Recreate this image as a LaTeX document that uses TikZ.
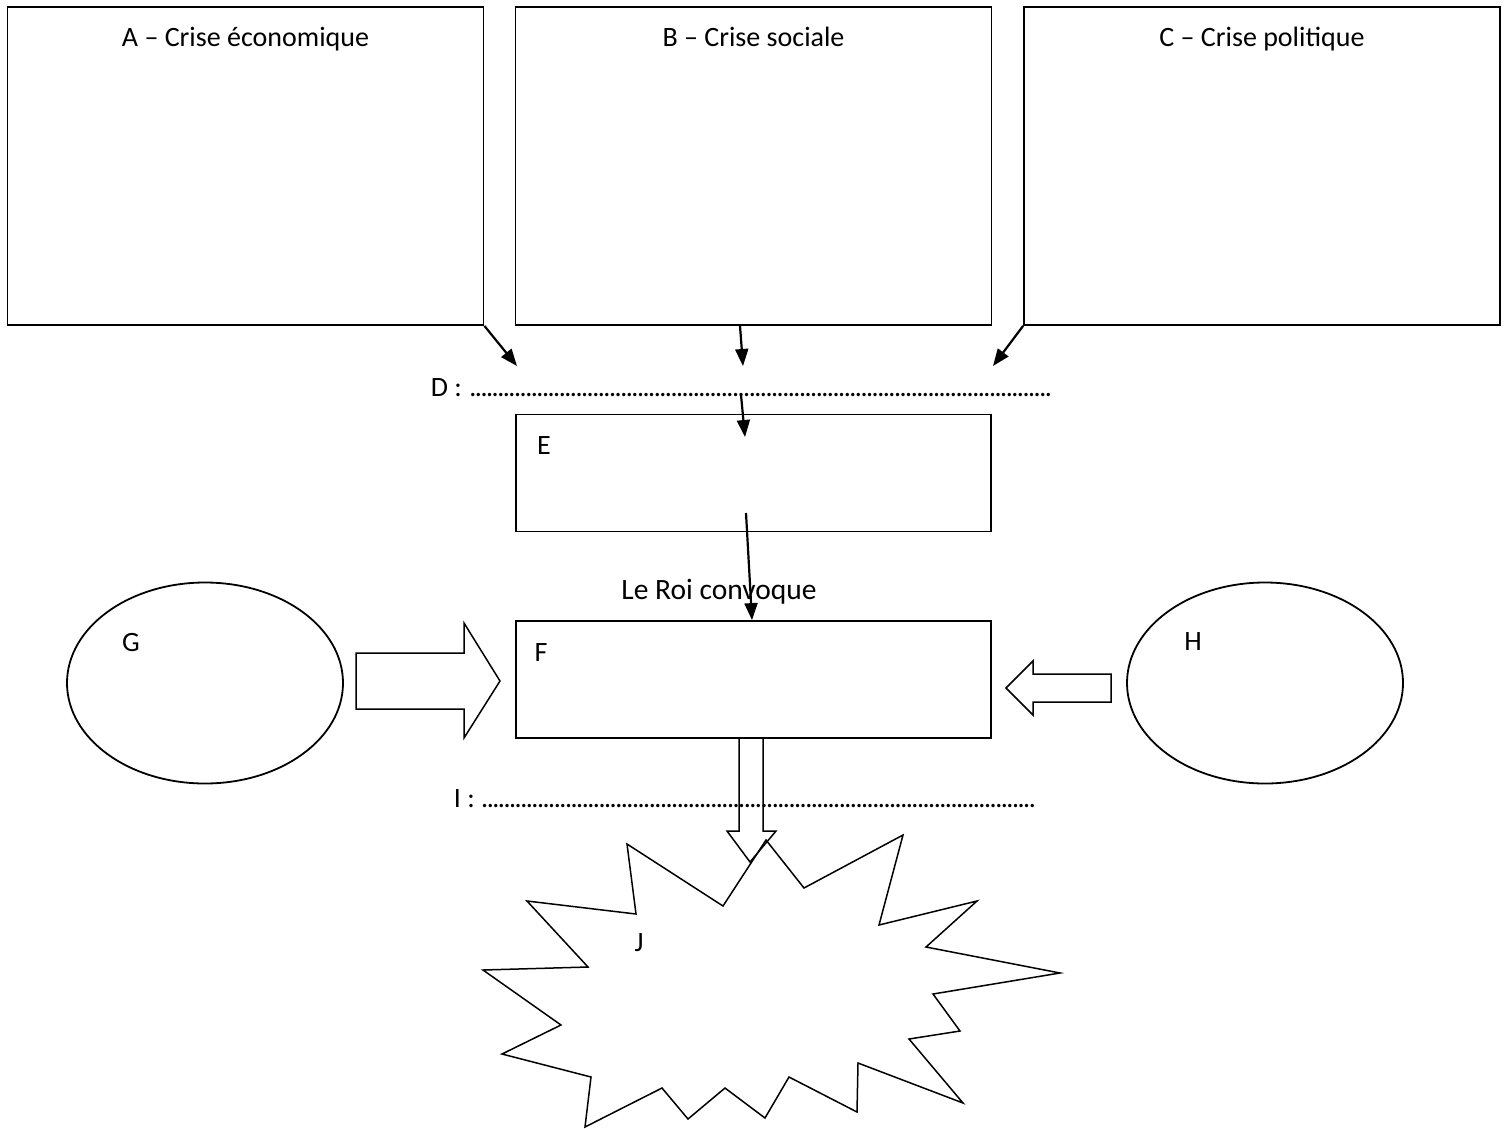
\documentclass[tikz,border=0pt]{standalone}
\usepackage{fontspec}
\setmainfont{Carlito}
\usetikzlibrary{arrows.meta,shapes.geometric}
\newcommand{\dotline}[2]{\makebox[#1][l]{#2\leaders\hbox to 5.6pt{\hss.\hss}\hfill}}

\begin{document}
\begin{tikzpicture}[x=1pt, y=-1pt, line width=1.8pt,
  every node/.style = {font=\fontsize{28}{33}\selectfont},
  crise/.style = {draw, rectangle, minimum width=476pt, minimum height=318pt},
  etape/.style = {draw, rectangle, minimum width=475pt, minimum height=117pt},
  groupe/.style = {draw, ellipse, minimum width=276pt, minimum height=201pt},
  fleche/.style = {-{Triangle[length=17pt,width=13pt]}, line width=2.2pt},
  bloc/.style = {line width=1.5pt}]
\useasboundingbox (0,0) rectangle (1507,1128);
% les trois crises
\node[crise] (A) at (245.5,166) {};
\node[crise] (B) at (753.5,166) {};
\node[crise] (C) at (1262,166) {};
\node[anchor=base] (la) at (245.5,46) {A – Crise économique};
\node[anchor=base] (lb) at (753.5,46) {B – Crise sociale};
\node[anchor=base] (lc) at (1262,46) {C – Crise politique};
% lignes a remplir
\node[anchor=base west, inner sep=0pt] (D) at (430,396) {\dotline{627pt}{D :\ }};
\node[anchor=base west, inner sep=0pt] (I) at (453,807) {\dotline{587pt}{I :\ }};
\coordinate (dA) at (517,366);
\coordinate (dB) at (743,366);
\coordinate (dC) at (993,366);
\coordinate (d1) at (741,395);
\coordinate (e1) at (745,437);
\coordinate (e2) at (746,513);
\draw[fleche] (A.south east) -- (dA);
\draw[fleche] ([xshift=-13.5pt]B.south) -- (dB);
\draw[fleche] (C.south west) -- (dC);
\draw[fleche] (d1) -- (e1);
% etats generaux
\node[etape] (E) at (753.5,473) {};
\node[anchor=base] (le) at (544,454) {E};
\node[anchor=base, font=\fontsize{29.5}{35}\selectfont] (roi) at (719,599) {Le Roi convoque};
\node[etape] (F) at (753.5,679.5) {};
\node[anchor=base] (lf) at (541,661) {F};
\draw[fleche] (e2) -- ([xshift=-1.5pt]F.north);
% les ordres
\node[groupe] (G) at (205,683) {};
\node[anchor=base] (lg) at (131,651) {G};
\node[groupe] (H) at (1265,683) {};
\node[anchor=base] (lh) at (1193,650) {H};
\draw[bloc] (356,653) -- (464,653) -- (464,623) -- (500,681) -- (464,738) -- (464,709) -- (356,709) -- cycle;
\draw[bloc] (1111,674) -- (1033,674) -- (1033,661) -- (1006,688) -- (1033,715) -- (1033,702) -- (1111,702) -- cycle;
\draw[bloc] (739,738) -- (739,831) -- (727,831) -- (750,862) -- (776,831) -- (763,831) -- (763,738);
% explosion
\draw[bloc] (766,840) -- (804,888) -- (903,835) -- (879,925) -- (977,901) -- (926,947)
  -- (1060,973) -- (933,994) -- (960,1031) -- (909,1039) -- (963,1103) -- (858,1063)
  -- (857,1112) -- (789,1077) -- (765,1118) -- (725,1088) -- (688,1119) -- (662,1088)
  -- (585,1127) -- (591,1077) -- (502,1054) -- (561,1025) -- (483,970) -- (588,967)
  -- (527,901) -- (636,914) -- (627,844) -- (723,906) -- cycle;
\node[anchor=base] (lj) at (639,951) {J};
\end{tikzpicture}
\end{document}
